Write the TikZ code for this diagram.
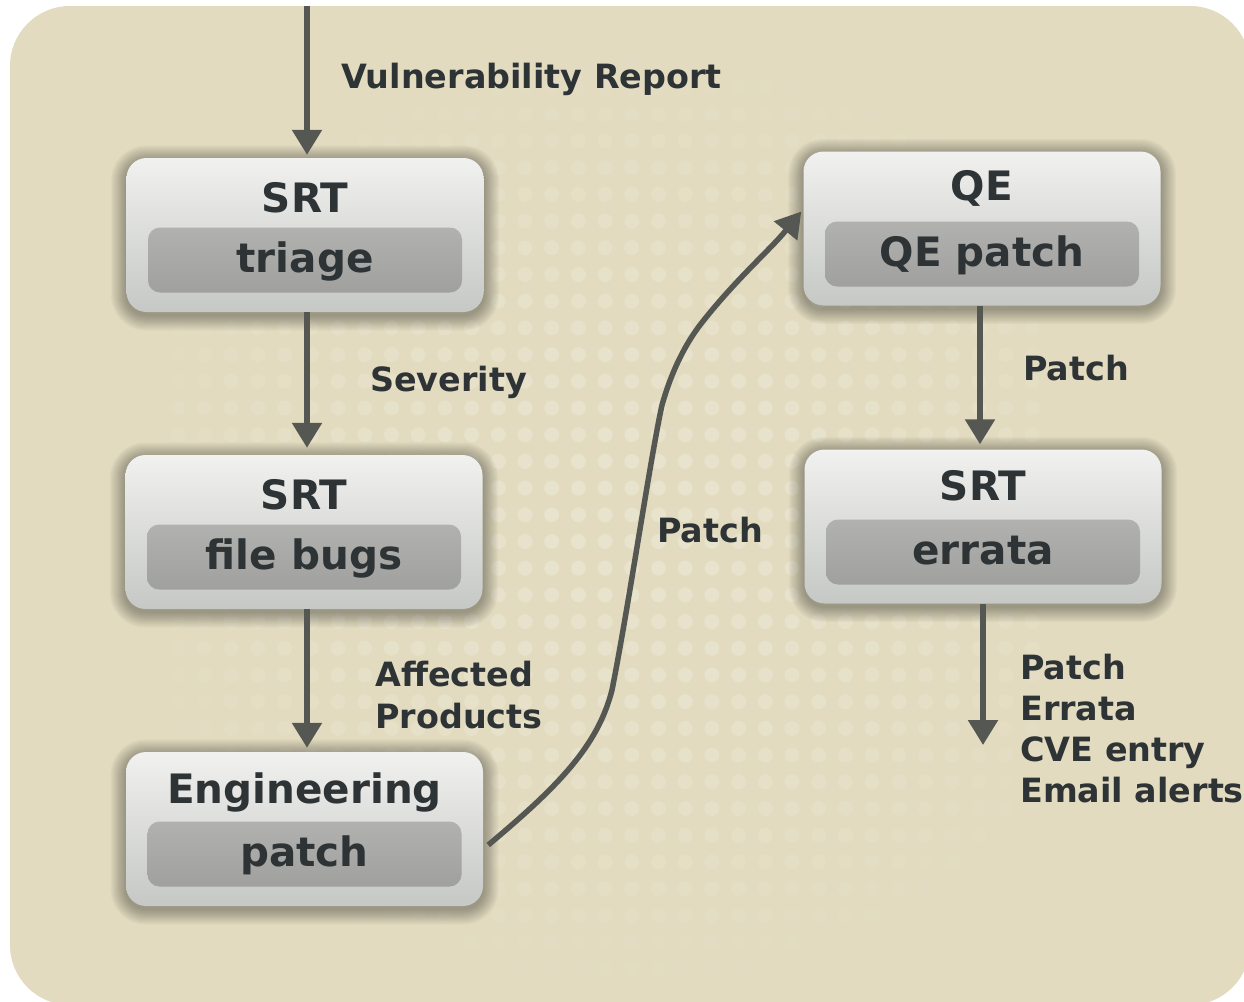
\documentclass[tikz,border=0pt]{standalone}
\usepackage{fontspec}
\setmainfont{DejaVu Sans}
\usetikzlibrary{arrows.meta,calc}
\definecolor{bgcol}{RGB}{226,219,192}
\definecolor{dotcol}{RGB}{238,234,216}
\definecolor{arrowcol}{RGB}{85,87,83}
\definecolor{txtcol}{RGB}{46,52,54}
\definecolor{boxtop}{RGB}{241,241,240}
\definecolor{boxbot}{RGB}{197,200,196}
\definecolor{intop}{RGB}{177,178,175}
\definecolor{inbot}{RGB}{160,161,158}
\pgfdeclarelayer{bglayer}
\pgfdeclarelayer{shadlayer}
\pgfsetlayers{bglayer,shadlayer,main}
\newcommand\softshadow[1]{%
  \begin{pgfonlayer}{shadlayer}
  \foreach \k in {1,...,14} {
    \pgfmathsetmacro\ex{\k*1.1}
    \pgfmathsetmacro\rc{20+\k*1.1}
    \pgfmathsetmacro\up{\ex-3}
    \pgfmathsetmacro\dn{-\ex-3}
    \fill[black, opacity=0.024, rounded corners=\rc pt]
      ([xshift=-\ex pt, yshift=\up pt]#1.north west) rectangle
      ([xshift=\ex pt, yshift=\dn pt]#1.south east);
  }
  \end{pgfonlayer}}
\begin{document}
\begin{tikzpicture}[x=1pt,y=-1pt,
  outerbox/.style={rectangle, rounded corners=20pt, minimum width=357pt, minimum height=154pt,
    inner sep=0pt, top color=boxtop, bottom color=boxbot, draw=none},
  innerbox/.style={rectangle, rounded corners=12pt, minimum width=314pt, inner sep=0pt,
    text height=45pt, text depth=20pt, top color=intop, bottom color=inbot, text=txtcol,
    font=\fontsize{40.5}{48}\selectfont\bfseries},
  titletext/.style={anchor=base, inner sep=0pt, text=txtcol, font=\fontsize{40.5}{48}\selectfont\bfseries},
  lbl/.style={anchor=base west, inner sep=0pt, text=txtcol, font=\fontsize{33.4}{41}\selectfont\bfseries},
  flow/.style={draw=arrowcol, line width=5.5pt, -{Triangle[width=29pt,length=25pt]}},
]
\useasboundingbox (0,0) rectangle (1244,1001);
\begin{pgfonlayer}{bglayer}
\clip (0,0) rectangle (1244,1001);
\fill[white] (0,0) rectangle (1244,1001);
\fill[bgcol, rounded corners=60pt] (10,6) rectangle (1250,1005);
% dotted texture
\foreach \i in {-13,...,19} {
  \foreach \j in {-13,...,21} {
    \pgfmathsetmacro\dx{525+26.7*\i}
    \pgfmathsetmacro\dy{408+26.7*\j}
    \pgfmathsetmacro\op{max(0,0.55*(1-((\dx-630)/540)^2-((\dy-520)/480)^2))}
    \ifdim\op pt>0.02pt
      \fill[dotcol, opacity=\op] (\dx,\dy) circle[radius=7.5pt];
    \fi
  }
}
\end{pgfonlayer}

% boxes
\node[outerbox] (n1) at (305,235) {};
\node[titletext] (n1t) at ([yshift=23pt]n1.center) {SRT};
\node[innerbox] (n1s) at ([yshift=-25pt]n1.center) {triage};

\node[outerbox] (n2) at (304,532) {};
\node[titletext] (n2t) at ([yshift=22.5pt]n2.center) {SRT};
\node[innerbox] (n2s) at ([yshift=-25pt]n2.center) {file bugs};

\node[outerbox] (n3) at (304.5,829) {};
\node[titletext] (n3t) at ([yshift=26pt]n3.center) {Engineering};
\node[innerbox] (n3s) at ([yshift=-25pt]n3.center) {patch};

\node[outerbox] (qe) at (982,228.5) {};
\node[titletext] (qet) at ([yshift=28pt]qe.center) {QE};
\node[innerbox] (qes) at ([yshift=-25.5pt]qe.center) {QE patch};

\node[outerbox] (er) at (983,526.5) {};
\node[titletext] (ert) at ([yshift=26.5pt]er.center) {SRT};
\node[innerbox] (ers) at ([yshift=-25.5pt]er.center) {errata};

\softshadow{n1}
\softshadow{n2}
\softshadow{n3}
\softshadow{qe}
\softshadow{er}

% connectors
\coordinate (src) at (307,6);
\coordinate (out) at (983,745);
\draw[flow, shorten >=3pt] (src) -- (src |- n1.north);
\draw[flow, shorten >=7pt] (n1.south -| src) -- (n2.north -| src);
\draw[flow, shorten >=4pt] (n2.south -| src) -- (n3.north -| src);
\draw[flow] ([xshift=5pt,yshift=-16pt]n3.east) .. controls (560,785) and (598,745) .. (612,690)
  .. controls (628,610) and (650,460) .. (662,405)
  .. controls (672,370) and (685,345) .. (700,325)
  .. controls (735,280) and (770,250) .. ([xshift=-2pt,yshift=17pt]qe.west);
\draw[flow, shorten >=5pt] ([xshift=-2pt]qe.south) -- ([xshift=-3pt]er.north);
\draw[flow] (er.south) -- (out);

% labels
\node[lbl] (vr) at (341,88) {Vulnerability Report};
\node[lbl] (sev) at (370,391) {Severity};
\node[lbl] (aff1) at (375,686) {Affected};
\node[lbl] (aff2) at (375,728) {Products};
\node[lbl] (p1) at (657,542) {Patch};
\node[lbl] (p2) at (1023,380) {Patch};
\node[lbl] (o1) at (1020,679) {Patch};
\node[lbl] (o2) at (1020,720) {Errata};
\node[lbl] (o3) at (1020,761) {CVE entry};
\node[lbl] (o4) at (1020,802) {Email alerts};
\end{tikzpicture}
\end{document}
